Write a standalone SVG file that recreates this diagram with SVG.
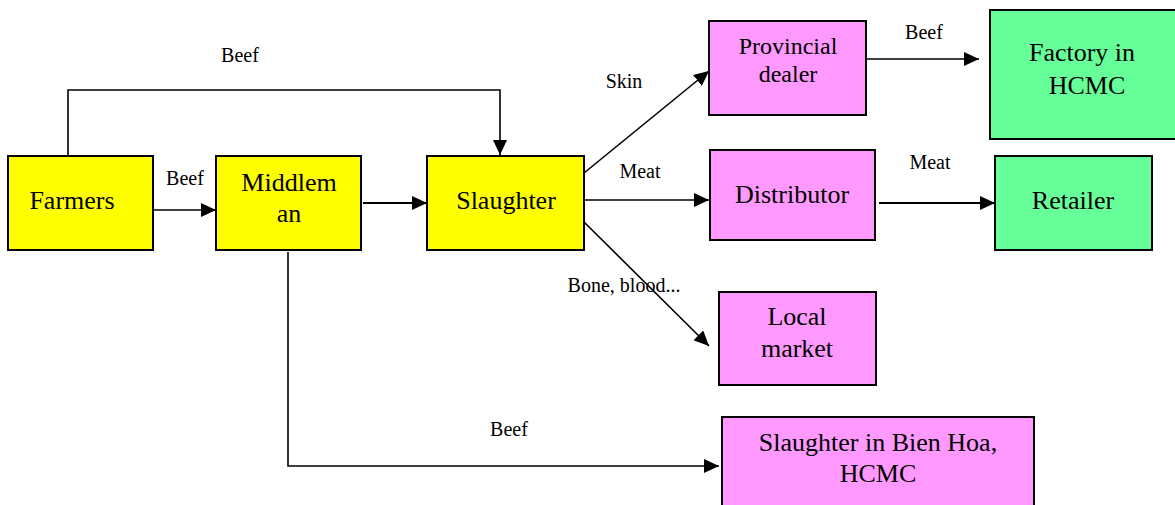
<svg xmlns="http://www.w3.org/2000/svg" width="1175" height="505" viewBox="0 0 1175 505">
<defs>
<marker id="ah" markerUnits="userSpaceOnUse" markerWidth="16" markerHeight="14" refX="15" refY="7" orient="auto">
<path d="M0,0 L15,7 L0,14 Z" fill="#000"/>
</marker>
<style>
.box{stroke:#000;stroke-width:2}
.y{fill:#FFFF00}.p{fill:#FF99FF}.g{fill:#66FF99}
.t{font-family:'Liberation Serif','Times New Roman',Times,'DejaVu Serif',serif;font-size:26px;fill:#000;text-anchor:middle}
.t24{font-size:24px}
.l{font-family:'Liberation Serif','Times New Roman',Times,'DejaVu Serif',serif;font-size:20px;fill:#000;text-anchor:middle}
.c{fill:none;stroke:#000;stroke-width:1.6}
.c2{stroke-width:2.2}
</style>
</defs>
<rect width="1175" height="505" fill="#fff"/>
<g id="connectors">
<polyline class="c" points="68,156 68,90 500,90 500,155" marker-end="url(#ah)"/>
<line class="c" x1="153" y1="210" x2="216" y2="210" marker-end="url(#ah)"/>
<line class="c c2" x1="363" y1="203" x2="427" y2="203" marker-end="url(#ah)"/>
<line class="c" x1="584" y1="173" x2="709" y2="71" marker-end="url(#ah)"/>
<line class="c" x1="584" y1="200" x2="709" y2="200" marker-end="url(#ah)"/>
<line class="c" x1="584" y1="222" x2="709" y2="346" marker-end="url(#ah)"/>
<line class="c" x1="866" y1="59" x2="979" y2="59" marker-end="url(#ah)"/>
<line class="c c2" x1="879" y1="203" x2="995" y2="203" marker-end="url(#ah)"/>
<polyline class="c" points="288,252 288,466 719,466" marker-end="url(#ah)"/>
<text class="l" x="240" y="62">Beef</text>
<text class="l" x="185" y="185">Beef</text>
<text class="l" x="624" y="88">Skin</text>
<text class="l" x="640" y="178">Meat</text>
<text class="l" x="624" y="292">Bone, blood...</text>
<text class="l" x="924" y="39">Beef</text>
<text class="l" x="930" y="169">Meat</text>
<text class="l" x="509" y="436">Beef</text>
</g>
<g id="farmers"><rect class="box y" x="8" y="156" width="145" height="94"/><text class="t" x="72" y="209">Farmers</text></g>
<g id="middleman"><rect class="box y" x="216" y="156" width="145" height="94"/><text class="t" x="289" y="191">Middlem</text><text class="t" x="289" y="222">an</text></g>
<g id="slaughter"><rect class="box y" x="427" y="156" width="157" height="94"/><text class="t" x="506" y="209">Slaughter</text></g>
<g id="provincial"><rect class="box p" x="709" y="21" width="157" height="94"/><text class="t t24" x="788" y="54">Provincial</text><text class="t t24" x="788" y="82">dealer</text></g>
<g id="distributor"><rect class="box p" x="710" y="150" width="165" height="90"/><text class="t" x="792" y="203">Distributor</text></g>
<g id="local"><rect class="box p" x="719" y="292" width="157" height="93"/><text class="t" x="797" y="325">Local</text><text class="t" x="797" y="357">market</text></g>
<g id="bienhoa"><rect class="box p" x="722" y="417" width="312" height="100"/><text class="t" x="878" y="451">Slaughter in Bien Hoa,</text><text class="t" x="878" y="482">HCMC</text></g>
<g id="factory"><rect class="box g" x="990" y="10" width="200" height="129"/><text class="t" x="1082" y="61">Factory in</text><text class="t" x="1087" y="94">HCMC</text></g>
<g id="retailer"><rect class="box g" x="995" y="156" width="157" height="94"/><text class="t" x="1073" y="209">Retailer</text></g>
</svg>
